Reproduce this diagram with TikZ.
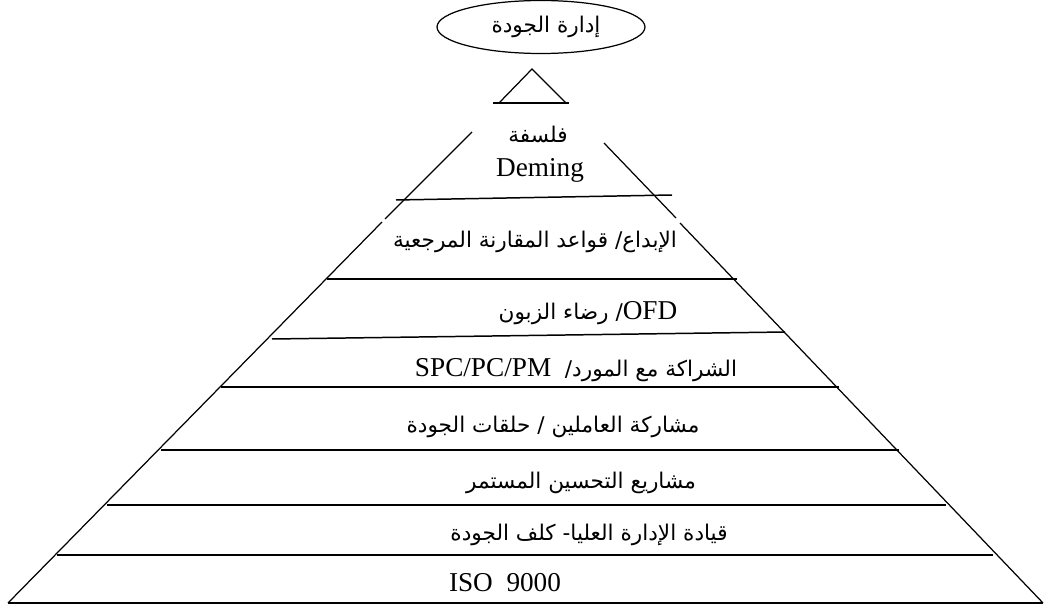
\documentclass[tikz,border=0pt]{standalone}
\usepackage{fontspec}
\setmainfont{Liberation Serif}
\newfontfamily\arabicfont[Script=Arabic]{DejaVu Sans}
\TeXXeTstate=1
\usetikzlibrary{shapes.geometric}
\newcommand{\artext}[1]{{\arabicfont\beginR #1\endR}}
\newcommand{\lattext}[1]{{\rmfamily\beginL #1\endL}}
\tikzset{tier/.style = {inner sep = 0pt, font = \fontsize{12.3}{15}\selectfont}}
\tikzset{rung/.style = {line width = 0.85pt}}
\tikzset{side/.style = {line width = 0.7pt}}

\begin{document}
\begin{tikzpicture}[x=0.02cm, y=-0.02cm]
	\useasboundingbox (0,0) rectangle (1052,612);

	% top: ellipse and small triangle
	\node[tier, ellipse, draw, line width = 0.7pt, minimum width = 4.16cm, minimum height = 1.06cm] (goal) at (541,27) {\hspace{0.2cm}\artext{إدارة الجودة}};
	\draw[side] (499,103) -- (532,69) -- (566,103);
	\draw[side] (493,103) -- (569,103);

	% sides of the pyramid
	\draw[side] (472,132) -- (385,219);
	\draw[side] (382,222) -- (8,603);
	\draw[side] (604,143) -- (676,218);
	\draw[side] (680,223) -- (1043,603);

	% rungs
	\draw[rung] (396,200) -- (672,195);
	\draw[rung] (327,279) -- (737,279);
	\draw[rung] (272,339) -- (785,332);
	\draw[rung] (221,387) -- (839,387);
	\draw[rung] (161,450) -- (899,450);
	\draw[rung, line width = 1.1pt] (107,505) -- (946,505);
	\draw[rung] (57,555) -- (993,555);
	\draw[line width = 1.5pt] (8,603) -- (1043,603);

	% labels
	\node[tier] (phil) at (538,134) {\artext{فلسفة}};
	\node[tier, font = \fontsize{15.5}{17}\selectfont] (deming) at (540,170) {Deming};
	\node[tier] (innov) at (535,242) {\artext{الإبداع/ قواعد المقارنة المرجعية}};
	\node[tier] (ofd) at (588,313) {\artext{\lattext{\fontsize{15.5}{17}\selectfont OFD}/ رضاء الزبون}};
	\node[tier] (spc) at (576,370) {\artext{الشراكة مع المورد/ \ \lattext{\fontsize{15.5}{17}\selectfont SPC/PC/PM}}};
	\node[tier] (staff) at (553,427) {\artext{مشاركة العاملين / حلقات الجودة}};
	\node[tier] (proj) at (581,483) {\artext{مشاريع التحسين المستمر}};
	\node[tier] (lead) at (589,535) {\artext{قيادة الإدارة العليا- كلف الجودة}};
	\node[tier, font = \fontsize{15.5}{17}\selectfont] (iso) at (505,583) {ISO\ \ 9000};
\end{tikzpicture}
\end{document}
